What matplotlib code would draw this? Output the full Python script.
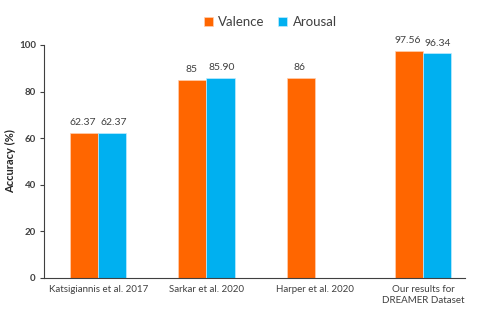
import matplotlib
matplotlib.use("Agg")
import matplotlib.pyplot as plt
import numpy as np

categories = ["Katsigiannis et al. 2017", "Sarkar et al. 2020", "Harper et al. 2020",
              "Our results for\nDREAMER Dataset"]
valence = [62.37, 85, 86, 97.56]
arousal = [62.37, 85.90, np.nan, 96.34]
valence_labels = ["62.37", "85", "86", "97.56"]
arousal_labels = ["62.37", "85.90", "", "96.34"]
yticks = [0, 20, 40, 60, 80, 100]

plt.rcParams['font.family'] = ['Lato', 'DejaVu Sans']
fig = plt.figure(figsize=(4.8, 3.12), dpi=100)
ax = fig.add_axes([0.092, 0.109, 0.877, 0.747])

x = np.arange(len(categories))
w = 0.26
c_val = "#FF6600"
c_aro = "#00B0F0"
bv = ax.bar(x - w/2, valence, w, color=c_val, edgecolor="#FFD0B0", linewidth=0.5, label="Valence")
ba = ax.bar(x + w/2, arousal, w, color=c_aro, edgecolor="#C0ECFF", linewidth=0.5, label="Arousal")

for xi, v, t in zip(x, valence, valence_labels):
    ax.text(xi - w/2 - 0.01, v + 2.5, t, ha="center", va="bottom", fontsize=7.5, color="#404040")
for xi, v, t in zip(x, arousal, arousal_labels):
    if t:
        ax.text(xi + w/2 + 0.01, v + 2.5, t, ha="center", va="bottom", fontsize=7.5, color="#404040")

ax.set_ylim(0, 100)
ax.set_xlim(-0.5, 3.39)
ax.set_yticks(yticks)
ax.set_yticklabels([str(t) for t in yticks], fontsize=7, fontweight="bold", color="#404040")
ax.set_xticks(x)
ax.set_xticklabels(categories, fontsize=7, color="#404040", linespacing=1.25)
ax.tick_params(axis="x", length=0, pad=5)
ax.tick_params(axis="y", length=3, width=0.8, color="#404040", pad=3)
ax.set_ylabel("Accuracy (%)", fontsize=8, fontweight="bold", color="#262626", labelpad=2)
for s in ["top", "right"]:
    ax.spines[s].set_visible(False)
for s in ["left", "bottom"]:
    ax.spines[s].set_color("#404040")
    ax.spines[s].set_linewidth(0.8)

leg = fig.legend(handles=[bv, ba], loc="center", bbox_to_anchor=(0.563, 0.93), ncol=2,
                 frameon=False, fontsize=9.5, handlelength=0.7, handleheight=0.7,
                 handletextpad=0.4, columnspacing=1.0)
for t in leg.get_texts():
    t.set_color("#404040")

fig.savefig("out.png", dpi=100)
